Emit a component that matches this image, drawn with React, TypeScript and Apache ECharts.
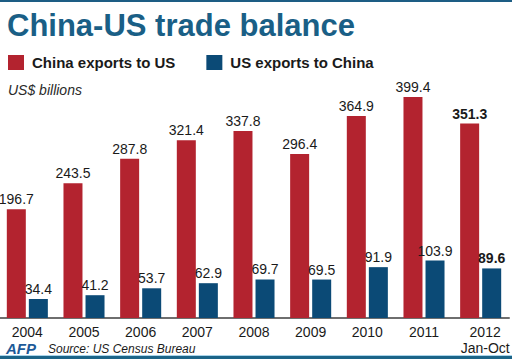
import React, { useEffect, useRef } from "react";
import * as echarts from "echarts";

const categories = ["2004", "2005", "2006", "2007", "2008", "2009", "2010", "2011", "2012"];
const chinaExports = [196.7, 243.5, 287.8, 321.4, 337.8, 296.4, 364.9, 399.4, 351.3];
const usExports = [34.4, 41.2, 53.7, 62.9, 69.7, 69.5, 91.9, 103.9, 89.6];
const lastCategoryNote = "Jan-Oct";

const RED = "#b3232f";
const NAVY = "#0b4a76";
const TITLE = "#1a5f86";
const FONT = "'Liberation Sans', Arial, Helvetica, sans-serif";

export default function App() {
  const ref = useRef<HTMLDivElement>(null);
  useEffect(() => {
    if (!ref.current) return;
    const chart = echarts.init(ref.current, undefined, { renderer: "svg" });
    const lastIdx = categories.length - 1;
    const mkData = (arr: number[]) =>
      arr.map((v, i) =>
        i === lastIdx ? { value: v, label: { fontWeight: "bold" } } : { value: v }
      );
    const labelStyle = {
      show: true,
      position: "top",
      distance: 3,
      fontFamily: FONT,
      fontSize: 14,
      color: "#1a1a1a",
    };
    chart.setOption({
      animation: false,
      backgroundColor: "#ffffff",
      textStyle: { fontFamily: FONT },
      grid: {
        left: -1,
        right: 3,
        top: 69,
        bottom: 41,
        containLabel: false,
        outerBoundsMode: "none",
      },
      legend: {
        left: 8,
        top: 55,
        padding: 0,
        icon: "rect",
        itemWidth: 16,
        itemHeight: 15,
        itemGap: 31,
        selectedMode: false,
        textStyle: {
          fontFamily: FONT,
          fontSize: 15,
          fontWeight: "bold",
          color: "#1a1a1a",
          padding: [0, 0, 0, 3],
        },
        data: ["China exports to US", "US exports to China"],
      },
      xAxis: {
        type: "category",
        data: categories,
        axisTick: { show: false },
        axisLine: { lineStyle: { color: "#6e6e6e", width: 2 } },
        axisLabel: {
          fontFamily: FONT,
          fontSize: 14,
          color: "#1a1a1a",
          margin: 6,
          lineHeight: 16,
          interval: 0,
          formatter: (v: string, i: number) =>
            i === lastIdx
              ? `{p| }{s|${v}}\n{p| }{s|${lastCategoryNote}}`
              : v,
          rich: {
            p: { width: 9, fontSize: 14, lineHeight: 16 },
            s: {
              fontFamily: FONT,
              fontSize: 14,
              color: "#1a1a1a",
              lineHeight: 16,
            },
          },
        },
      },
      yAxis: {
        type: "value",
        min: 0,
        max: 450,
        show: false,
        splitLine: { show: false },
      },
      series: [
        {
          name: "China exports to US",
          type: "bar",
          data: mkData(chinaExports),
          barWidth: 19,
          barGap: "16%",
          itemStyle: { color: RED },
          label: labelStyle,
        },
        {
          name: "US exports to China",
          type: "bar",
          data: mkData(usExports),
          barWidth: 19,
          itemStyle: { color: NAVY },
          label: labelStyle,
        },
      ],
      graphic: [
        { type: "rect", shape: { x: 0, y: 0, width: 512, height: 2 }, style: { fill: "#1d5d84" } },
        { type: "rect", shape: { x: 0, y: 355, width: 512, height: 1 }, style: { fill: "#a9d4ea" } },
        { type: "rect", shape: { x: 0, y: 356, width: 512, height: 3 }, style: { fill: "#1b6488" } },
        {
          type: "text",
          x: 7,
          y: 25,
          style: {
            text: "China-US trade balance",
            fontFamily: FONT,
            fontSize: 31,
            fontWeight: "bold",
            fill: TITLE,
            verticalAlign: "middle",
          },
        },
        {
          type: "text",
          x: 8,
          y: 90,
          style: {
            text: "US$ billions",
            fontFamily: FONT,
            fontSize: 14,
            fontStyle: "italic",
            fill: "#2a2a2a",
            verticalAlign: "middle",
          },
        },
        {
          type: "text",
          x: 6,
          y: 348,
          style: {
            text: "AFP",
            fontFamily: FONT,
            fontSize: 15,
            fontWeight: "bold",
            fontStyle: "italic",
            fill: "#1d5a98",
            verticalAlign: "middle",
          },
        },
        {
          type: "text",
          x: 48,
          y: 349,
          style: {
            text: "Source: US Census Bureau",
            fontFamily: FONT,
            fontSize: 12,
            fontStyle: "italic",
            fill: "#1a1a1a",
            verticalAlign: "middle",
          },
        },
      ],
    });
    return () => chart.dispose();
  }, []);
  return (
    <div
      ref={ref}
      style={{ position: "fixed", left: 0, top: 0, width: 512, height: 359 }}
    />
  );
}
